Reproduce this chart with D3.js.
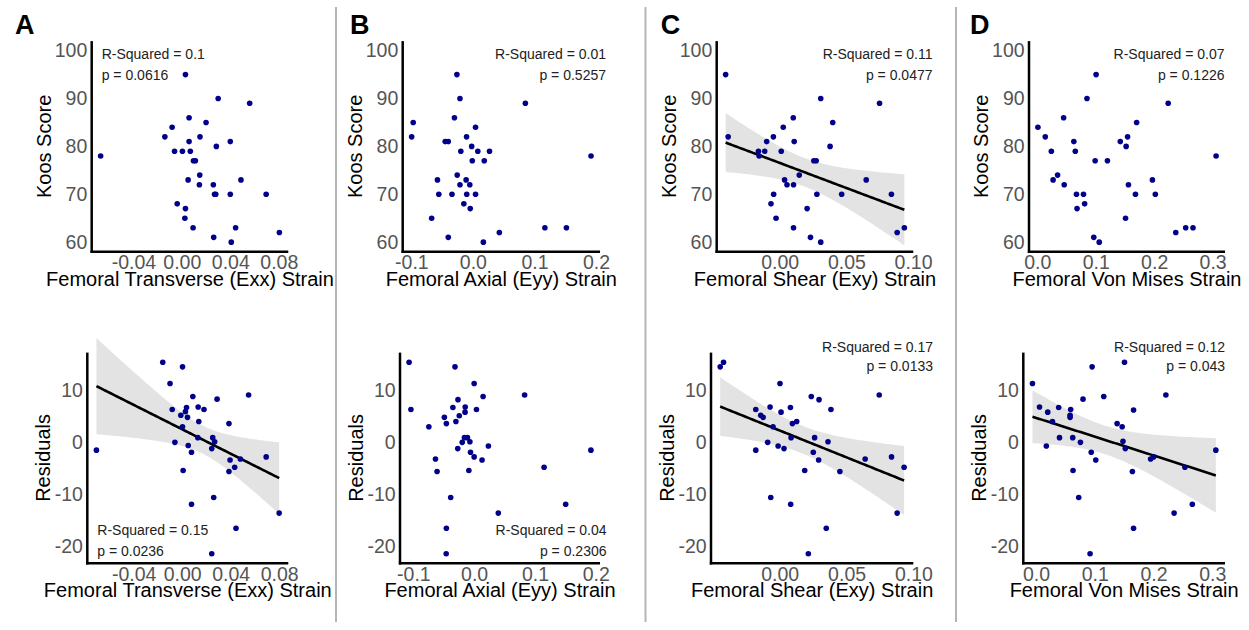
<!DOCTYPE html>
<html>
<head>
<meta charset="utf-8">
<script src="https://cdn.jsdelivr.net/npm/d3@7"></script>
<style>
  body { margin: 0; background: #fff; }
  svg { display: block; font-family: "Liberation Sans", Arial, sans-serif; }
</style>
</head>
<body>
<svg id="chart" width="1249" height="630"></svg>
<script>
// Koos score vs femoral strain (top row) and residuals vs strain (bottom row)

// ---- data ----
const aTopX = [-0.067, 0.003, 0.030, 0.056, 0.006, 0.020, -0.008, -0.014, 0.015, 0.006, 0.040, 0.0285, -0.006, 0.0005, 0.007, 0.0096, 0.0112, 0.0148, 0.0052, 0.0488, 0.0145, 0.026, 0.027, 0.028, 0.040, 0.0696, -0.0038, 0.003, 0.0025, 0.0093, 0.0444, 0.0805, 0.0263, 0.0408];
const aTopY = [78, 95, 90, 89, 86, 85, 84, 82, 82, 81, 81, 80, 79, 79, 79, 77, 77, 74, 73, 73, 72, 72, 70, 70, 70, 70, 68, 67, 65, 63, 63, 62, 61, 60];

const bTopX = [-0.026, -0.021, 0.0853, -0.030, -0.097, 0.0043, -0.0995, -0.0103, -0.045, -0.040, -0.002, -0.0196, 0.008, 0.027, 0.192, -0.001, 0.0185, -0.0255, -0.0576, -0.011, -0.021, -0.005, -0.0554, -0.034, -0.010, 0.0043, -0.0147, -0.0043, -0.067, 0.117, 0.152, 0.043, -0.040, 0.017];
const bTopY = [95, 90, 89, 86, 85, 84, 82, 82, 81, 81, 80, 79, 79, 79, 78, 77, 77, 74, 73, 73, 72, 72, 70, 70, 70, 70, 68, 67, 65, 63, 63, 62, 61, 60];

const cTopX = [-0.0405, -0.0386, -0.0159, -0.0154, -0.0112, -0.0097, -0.0047, 0.0027, 0.0012, 0.0102, 0.0109, 0.0308, 0.0398, 0.0378, 0.0749, 0.0256, 0.0274, 0.0147, 0.0037, 0.0055, 0.0104, 0.0649, -0.0045, 0.0279, 0.0465, 0.0838, -0.0065, 0.0206, -0.0027, 0.0104, 0.0935, 0.0881, 0.0231, 0.0308];
const cTopY = [95, 82, 79, 78, 79, 81, 82, 84, 79, 86, 81, 90, 85, 80, 89, 77, 77, 74, 73, 72, 72, 73, 70, 70, 70, 70, 68, 67, 65, 63, 63, 62, 61, 60];
// fitted line values at the ends of the x range
const cTopFitEnds = [80.8, 66.75];

const dTopX = [0.1006, 0.085, 0.224, 0.045, 0.170, 0.001, 0.0136, 0.1545, 0.0625, 0.142, 0.152, 0.024, 0.065, 0.306, 0.099, 0.120, 0.0347, 0.027, 0.197, 0.046, 0.156, 0.067, 0.079, 0.168, 0.202, 0.081, 0.068, 0.151, 0.254, 0.2665, 0.237, 0.0966, 0.106];
const dTopY = [95, 90, 89, 86, 85, 84, 82, 82, 81, 81, 80, 79, 79, 78, 77, 77, 74, 73, 73, 72, 72, 70, 70, 70, 70, 68, 67, 65, 63, 63, 62, 61, 60];

const aBotX = [-0.0707, -0.016, 0.0003, -0.010, 0.0088, 0.0288, 0.0548, -0.0082, 0.0132, 0.018, 0.0036, 0.0027, -0.0011, 0.0044, 0.0137, 0.0386, 0.0003, 0.0129, 0.0252, 0.0268, -0.006, 0.005, 0.0077, 0.0244, 0.0395, 0.048, 0.0693, 0.0433, 0.0386, 0.0008, 0.0077, 0.026, 0.080, 0.0444, 0.0244];
const aBotY = [-1.6, 15.3, 14.4, 11.2, 8.7, 8.2, 9.0, 6.2, 6.7, 6.2, 6.6, 5.8, 5.1, 4.7, 3.9, 3.5, 2.9, 0.8, 0.8, 0.0, -0.1, -0.7, -2.0, -1.3, -3.5, -3.3, -2.9, -4.9, -5.7, -5.5, -12.0, -10.7, -13.7, -16.6, -21.5];

const bBotX = [-0.107, -0.104, -0.0315, 0.0, -0.0266, 0.0147, 0.083, -0.035, -0.0147, 0.0038, -0.015, -0.0245, -0.049, -0.0457, -0.030, -0.0745, -0.016, -0.011, -0.0196, -0.007, 0.0234, -0.027, 0.192, -0.006, 0.0, -0.0636, 0.013, 0.115, -0.061, -0.0087, -0.0386, 0.1505, 0.0397, -0.0457, -0.046];
const bBotY = [15.3, 6.2, 14.4, 11.2, 8.1, 8.7, 9.0, 6.6, 6.7, 6.2, 5.7, 5.0, 4.7, 3.5, 3.9, 2.9, 0.8, 0.8, -0.1, 0.0, -0.8, -1.3, -1.6, -2.0, -2.9, -3.3, -3.5, -4.9, -5.7, -5.5, -10.7, -12.0, -13.7, -16.6, -21.5];

const cBotX = [-0.0445, -0.042, 0.0002, 0.0236, 0.0294, 0.0744, -0.0179, -0.0072, 0.008, 0.0383, 0.001, -0.0142, -0.0124, 0.0095, 0.0127, -0.005, 0.0085, 0.0261, 0.0361, -0.009, -0.0012, 0.0032, -0.0179, 0.0251, 0.0291, 0.0639, 0.0836, 0.093, 0.0187, 0.045, -0.0067, 0.0082, 0.0878, 0.0348, 0.0214];
const cBotY = [14.4, 15.3, 11.2, 8.7, 8.1, 9.0, 6.2, 6.7, 6.6, 6.2, 5.7, 5.1, 4.7, 3.5, 3.9, 2.9, 0.8, 0.8, 0.0, -0.1, -0.8, -1.3, -1.6, -2.0, -3.5, -3.3, -2.9, -4.9, -5.5, -5.7, -10.7, -12.0, -13.7, -16.6, -21.5];

const dBotX = [-0.006, 0.006, 0.020, 0.0386, 0.059, 0.058, 0.058, 0.028, 0.0176, 0.040, 0.0625, 0.0756, 0.080, 0.0955, 0.1153, 0.1506, 0.166, 0.221, 0.138, 0.1466, 0.148, 0.152, 0.094, 0.1017, 0.195, 0.200, 0.2534, 0.306, 0.063, 0.164, 0.0727, 0.266, 0.235, 0.166, 0.092];
const dBotY = [11.2, 6.7, 5.7, 6.6, 6.2, 5.1, 4.7, 3.9, -0.8, 0.8, 0.8, -0.1, 8.2, 14.4, 8.7, 15.3, 6.1, 9.0, 3.5, 2.9, 0.1, -1.3, -2.0, -3.5, -3.3, -2.9, -4.9, -1.6, -5.5, -5.7, -10.7, -12.0, -13.7, -16.6, -21.5];

// tick labels
const koosTicks = [60, 70, 80, 90, 100];
const residTicks = [-20, -10, 0, 10];
const exxTicks = [-0.04, 0.00, 0.04, 0.08];
const eyyTicks = [-0.1, 0.0, 0.1, 0.2];
const exyTicks = [0.00, 0.05, 0.10];
const vmTicks = [0.0, 0.1, 0.2, 0.3];

const panelLetters = ["A", "B", "C", "D"];
const strainTitles = ["Femoral Transverse (Exx) Strain", "Femoral Axial (Eyy) Strain", "Femoral Shear (Exy) Strain", "Femoral Von Mises Strain"];
const topStats = [["R-Squared = 0.1", "p = 0.0616"], ["R-Squared = 0.01", "p = 0.5257"], ["R-Squared = 0.11", "p = 0.0477"], ["R-Squared = 0.07", "p = 0.1226"]];
const botStats = [["R-Squared = 0.15", "p = 0.0236"], ["R-Squared = 0.04", "p = 0.2306"], ["R-Squared = 0.17", "p = 0.0133"], ["R-Squared = 0.12", "p = 0.043"]];

// ---- layout ----
const svg = d3.select("#chart");
svg.append("rect").attr("width", 1249).attr("height", 630).attr("fill", "#fff");

const colLeftTop = [91.7, 402.7, 716.7, 1029];
const colLeftBot = [87.3, 400, 711, 1023.3];
const colRight = [288.3, 600, 913.3, 1225];
const rowTop = { top: 41.1, bottom: 251.7 };
const rowBot = { top: 352.6, bottom: 563.3 };

const fmt = (spec) => d => d3.format(spec)(d).replace("\u2212", "-");

const panels = [
  { col: 0, row: 0, xs: aTopX, ys: aTopY, xt: exxTicks, xf: ".2f", fit: false, stat: topStats[0], sx: 101.7, anchor: "start", sy: [59.3, 80] },
  { col: 1, row: 0, xs: bTopX, ys: bTopY, xt: eyyTicks, xf: ".1f", fit: false, stat: topStats[1], sx: 606, anchor: "end", sy: [59.3, 80] },
  { col: 2, row: 0, xs: cTopX, ys: cTopY, xt: exyTicks, xf: ".2f", fit: true, fitEnds: cTopFitEnds, stat: topStats[2], sx: 932.5, anchor: "end", sy: [59.3, 80] },
  { col: 3, row: 0, xs: dTopX, ys: dTopY, xt: vmTicks, xf: ".1f", fit: false, stat: topStats[3], sx: 1224.5, anchor: "end", sy: [59.3, 80] },
  { col: 0, row: 1, xs: aBotX, ys: aBotY, xt: exxTicks, xf: ".2f", fit: true, stat: botStats[0], sx: 97.3, anchor: "start", sy: [535, 555.5] },
  { col: 1, row: 1, xs: bBotX, ys: bBotY, xt: eyyTicks, xf: ".1f", fit: false, stat: botStats[1], sx: 606.5, anchor: "end", sy: [535, 555.5] },
  { col: 2, row: 1, xs: cBotX, ys: cBotY, xt: exyTicks, xf: ".2f", fit: true, stat: botStats[2], sx: 933, anchor: "end", sy: [351.5, 370.5] },
  { col: 3, row: 1, xs: dBotX, ys: dBotY, xt: vmTicks, xf: ".1f", fit: true, stat: botStats[3], sx: 1225, anchor: "end", sy: [351.5, 370.5] }
];

// ggplot-like 5% expansion
function expand(ext) {
  const pad = (ext[1] - ext[0]) * 0.05;
  return [ext[0] - pad, ext[1] + pad];
}

// linear fit with 95% confidence band
// (OLS from the points unless the fitted end values were read from the figure)
function linearFit(xs, ys, ends) {
  const n = xs.length;
  const mx = d3.mean(xs), my = d3.mean(ys);
  const [lo, hi] = d3.extent(xs);
  let sxx = 0, sxy = 0;
  xs.forEach((x, i) => { sxx += (x - mx) ** 2; sxy += (x - mx) * (ys[i] - my); });
  let b = sxy / sxx, a = my - b * mx;
  if (ends) {
    b = (ends[1] - ends[0]) / (hi - lo);
    a = ends[0] - b * lo;
  }
  let sse = 0;
  xs.forEach((x, i) => { sse += (ys[i] - a - b * x) ** 2; });
  const s = Math.sqrt(sse / (n - 2));
  const t = 2.036;
  return d3.range(0, 81).map(k => {
    const x = lo + (hi - lo) * k / 80;
    const se = s * Math.sqrt(1 / n + (x - mx) ** 2 / sxx);
    const yh = a + b * x;
    return { x, y: yh, lo: yh - t * se, hi: yh + t * se };
  });
}

const allBotY = [].concat(aBotY, bBotY, cBotY, dBotY);

panels.forEach(p => {
  const rowBox = p.row === 0 ? rowTop : rowBot;
  const left = p.row === 0 ? colLeftTop[p.col] : colLeftBot[p.col];
  const right = colRight[p.col];

  const x = d3.scaleLinear().domain(expand(d3.extent(p.xs))).range([left, right]);
  const y = d3.scaleLinear()
    .domain(p.row === 0 ? [58, 102] : expand(d3.extent(allBotY)))
    .range([rowBox.bottom, rowBox.top]);

  const g = svg.append("g");

  // regression band + line
  if (p.fit) {
    const fit = linearFit(p.xs, p.ys, p.fitEnds);
    g.append("path")
      .datum(fit)
      .attr("fill", "#e3e3e3")
      .attr("d", d3.area().x(d => x(d.x)).y0(d => y(d.lo)).y1(d => y(d.hi)));
    g.append("path")
      .datum(fit)
      .attr("fill", "none")
      .attr("stroke", "#000")
      .attr("stroke-width", 2.6)
      .attr("d", d3.line().x(d => x(d.x)).y(d => y(d.y)));
  }

  // points
  g.selectAll("circle")
    .data(p.xs.map((v, i) => [v, p.ys[i]]))
    .enter()
    .append("circle")
    .attr("cx", d => x(d[0]))
    .attr("cy", d => y(d[1]))
    .attr("r", 2.8)
    .attr("fill", "#00008b");

  // axes (no tick marks, classic theme)
  const xAxis = g.append("g")
    .attr("transform", `translate(0,${rowBox.bottom})`)
    .call(d3.axisBottom(x).tickValues(p.xt).tickSize(0).tickPadding(3.5).tickFormat(fmt(p.xf)));
  const yAxis = g.append("g")
    .attr("transform", `translate(${left},0)`)
    .call(d3.axisLeft(y).tickValues(p.row === 0 ? koosTicks : residTicks).tickSize(0).tickPadding(4.4).tickFormat(d3.format("d")));

  [xAxis, yAxis].forEach(ax => {
    ax.select(".domain").remove();
    ax.selectAll("text")
      .attr("fill", "#555")
      .style("font-size", "19.5px")
      .style("font-family", "'Liberation Sans', Arial, sans-serif");
  });
  yAxis.selectAll("text").text(d => String(d).replace("\u2212", "-"));

  g.append("line")
    .attr("x1", left).attr("x2", left)
    .attr("y1", rowBox.top).attr("y2", rowBox.bottom + 1.2)
    .attr("stroke", "#000").attr("stroke-width", 2.5);
  g.append("line")
    .attr("x1", left - 1.2).attr("x2", right)
    .attr("y1", rowBox.bottom).attr("y2", rowBox.bottom)
    .attr("stroke", "#000").attr("stroke-width", 2.5);

  // axis titles
  g.append("text")
    .attr("x", (left + right) / 2)
    .attr("y", rowBox.bottom + 34)
    .attr("text-anchor", "middle")
    .style("font-size", "20px")
    .attr("fill", "#000")
    .text(strainTitles[p.col]);

  const yTitleX = left - (p.row === 0 ? 41 : 37);
  const yMid = (rowBox.top + rowBox.bottom) / 2;
  g.append("text")
    .attr("transform", `translate(${yTitleX},${yMid}) rotate(-90)`)
    .attr("text-anchor", "middle")
    .style("font-size", "20px")
    .attr("fill", "#000")
    .text(p.row === 0 ? "Koos Score" : "Residuals");

  // R-squared / p annotations
  p.stat.forEach((s, i) => {
    g.append("text")
      .attr("x", p.sx)
      .attr("y", p.sy[i])
      .attr("text-anchor", p.anchor)
      .style("font-size", "14px")
      .attr("fill", "#222")
      .text(s);
  });
});

// panel letters
const letterX = [15, 350, 660.7, 970];
panelLetters.forEach((t, i) => {
  svg.append("text")
    .attr("x", letterX[i])
    .attr("y", 34.3)
    .style("font-size", "27px")
    .style("font-weight", "bold")
    .attr("fill", "#000")
    .text(t);
});

// column separators
[336, 645.5, 956].forEach(sx => {
  svg.append("line")
    .attr("x1", sx).attr("x2", sx)
    .attr("y1", 7).attr("y2", 622)
    .attr("stroke", "#b5b5b5")
    .attr("stroke-width", 2);
});
</script>
</body>
</html>
